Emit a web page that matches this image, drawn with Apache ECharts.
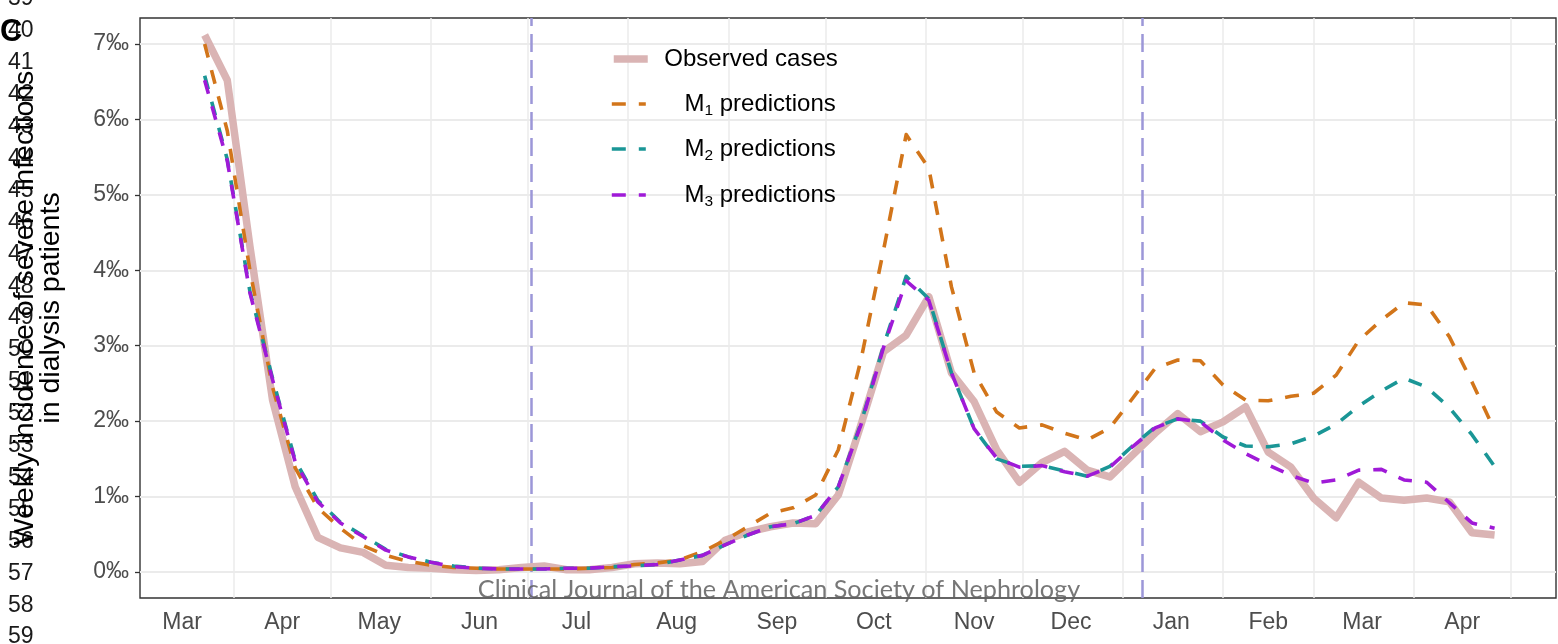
<!DOCTYPE html>
<html>
<head>
<meta charset="utf-8">
<script src="https://cdn.jsdelivr.net/npm/echarts@6/dist/echarts.min.js"></script>
<style>
html, body { margin: 0; padding: 0; background: #fff; }
#chart { width: 1558px; height: 644px; }
</style>
</head>
<body>
<div id="chart"></div>
<script>
// weekly series, first week starting 2020-03-23
const firstWeek = [2020, 2, 23];
const observed = [7.12, 6.52, 4.32, 2.28, 1.13, 0.46, 0.32, 0.26, 0.09, 0.06,
    0.05, 0.03, 0.02, 0.03, 0.06, 0.08, 0.03, 0.03, 0.06, 0.11,
    0.12, 0.11, 0.14, 0.42, 0.53, 0.60, 0.65, 0.64, 1.02, 1.95,
    2.92, 3.14, 3.65, 2.64, 2.26, 1.62, 1.19, 1.45, 1.60, 1.35,
    1.26, 1.55, 1.84, 2.10, 1.86, 1.99, 2.19, 1.59, 1.39, 0.98,
    0.72, 1.19, 0.98, 0.95, 0.98, 0.93, 0.52, 0.49];
const m1Pred = [7.00, 5.85, 4.00, 2.45, 1.38, 0.85, 0.58, 0.35, 0.22, 0.14,
    0.09, 0.06, 0.05, 0.04, 0.04, 0.04, 0.04, 0.05, 0.06, 0.10,
    0.12, 0.16, 0.27, 0.42, 0.60, 0.78, 0.85, 1.02, 1.62, 2.81,
    4.27, 5.80, 5.35, 3.78, 2.64, 2.12, 1.91, 1.95, 1.84, 1.75,
    1.91, 2.30, 2.70, 2.81, 2.80, 2.48, 2.28, 2.27, 2.33, 2.37,
    2.61, 3.07, 3.34, 3.57, 3.54, 3.12, 2.52, 1.88];
const m2Pred = [6.58, 5.47, 3.72, 2.57, 1.48, 0.95, 0.66, 0.48, 0.30, 0.20,
    0.13, 0.08, 0.05, 0.04, 0.04, 0.04, 0.05, 0.05, 0.07, 0.08,
    0.10, 0.16, 0.22, 0.36, 0.49, 0.60, 0.64, 0.75, 1.13, 1.97,
    3.00, 3.92, 3.62, 2.64, 1.90, 1.50, 1.40, 1.41, 1.34, 1.27,
    1.40, 1.67, 1.92, 2.03, 2.00, 1.79, 1.67, 1.66, 1.70, 1.80,
    1.96, 2.20, 2.40, 2.57, 2.45, 2.18, 1.82, 1.40];
const m3Pred = [6.52, 5.45, 3.70, 2.55, 1.46, 0.93, 0.65, 0.47, 0.29, 0.20,
    0.13, 0.07, 0.05, 0.04, 0.04, 0.04, 0.05, 0.05, 0.07, 0.08,
    0.10, 0.16, 0.22, 0.36, 0.49, 0.60, 0.64, 0.75, 1.13, 1.95,
    2.98, 3.86, 3.60, 2.64, 1.90, 1.51, 1.39, 1.41, 1.33, 1.27,
    1.39, 1.66, 1.91, 2.03, 1.99, 1.75, 1.57, 1.42, 1.28, 1.18,
    1.22, 1.35, 1.36, 1.22, 1.19, 0.92, 0.65, 0.58];

// axis ticks
const monthStarts = ['2020-04-01', '2020-05-01', '2020-06-01', '2020-07-01', '2020-08-01',
    '2020-09-01', '2020-10-01', '2020-11-01', '2020-12-01', '2021-01-01', '2021-02-01',
    '2021-03-01', '2021-04-01', '2021-05-01'];
const labelDates = ['2020-03-16', '2020-04-16', '2020-05-16', '2020-06-16', '2020-07-16',
    '2020-08-16', '2020-09-16', '2020-10-16', '2020-11-16', '2020-12-16', '2021-01-16',
    '2021-02-15', '2021-03-16', '2021-04-16'];
const monthLabels = ['Mar', 'Apr', 'May', 'Jun', 'Jul', 'Aug', 'Sep', 'Oct', 'Nov', 'Dec',
    'Jan', 'Feb', 'Mar', 'Apr'];
const yTicks = [0, 1, 2, 3, 4, 5, 6, 7];
const cutoffDates = ['2020-07-02', '2021-01-07'];
const seriesNames = ['Observed cases', 'M1 predictions', 'M2 predictions', 'M3 predictions'];

// dates are plotted as day numbers on a value axis
const DAY = 86400000;
const dayNum = (y, m, d) => Date.UTC(y, m, d) / DAY;
const ts = (s) => {
    const [y, m, d] = s.split('-').map(Number);
    return dayNum(y, m - 1, d);
};
const weekDays = observed.map((_, i) => dayNum(firstWeek[0], firstWeek[1], firstWeek[2] + 7 * i));
const pairs = (vals) => vals.map((v, i) => [weekDays[i], v]);
const labelDays = labelDates.map(ts);

const font = 'Liberation Sans, Arial, sans-serif';
const dash = [14, 13];

const chart = echarts.init(document.getElementById('chart'));

const graphics = [];
for (let n = 39; n <= 59; n++) {
    graphics.push({
        type: 'text', x: 8, y: 31 + (n - 40) * 31.9, z: 100,
        style: { text: String(n), fontSize: 23, fontFamily: font, fill: '#1a1a1a', align: 'left', verticalAlign: 'middle' }
    });
}
graphics.push({
    type: 'text', x: 0, y: 32, z: 101,
    style: { text: 'C', fontSize: 31, fontWeight: 'bold', fontFamily: font, fill: '#000', align: 'left', verticalAlign: 'middle' }
});
graphics.push({
    type: 'text', x: 25, y: 308, rotation: Math.PI / 2, z: 100,
    style: { text: 'Weekly incidence of severe infections', fontSize: 28.5, fontFamily: font, fill: '#000', align: 'center', verticalAlign: 'middle' }
});
graphics.push({
    type: 'text', x: 51, y: 308, rotation: Math.PI / 2, z: 100,
    style: { text: 'in dialysis patients', fontSize: 28.5, fontFamily: font, fill: '#000', align: 'center', verticalAlign: 'middle' }
});
graphics.push({
    type: 'text', x: 779, y: 590, z: 100,
    style: { text: 'Clinical Journal of the American Society of Nephrology', fontSize: 25.2, fontFamily: 'Lato, sans-serif', fill: 'rgba(95,95,95,0.85)', align: 'center', verticalAlign: 'middle' }
});

// one legend per row so each row sits exactly where it should
const legendTops = [47, 89, 134, 180];
const legends = seriesNames.map((name, i) => ({
    left: 610, top: legendTops[i], orient: 'vertical', padding: 0,
    itemWidth: 34, itemHeight: 14,
    selectedMode: false,
    itemStyle: { color: 'transparent', borderColor: 'transparent', borderWidth: 0 },
    lineStyle: { width: 'inherit', type: 'inherit' },
    formatter: (n) => {
        if (n === 'Observed cases') return '{t|Observed cases}';
        return '{t|M}{s|' + n.charAt(1) + '}{t| predictions}';
    },
    textStyle: {
        fontFamily: font, fontSize: 24, color: '#000', width: 185,
        rich: {
            t: { fontFamily: font, fontSize: 24, lineHeight: 32, color: '#000', align: 'right' },
            s: { fontFamily: font, fontSize: 15.5, lineHeight: 18, padding: [14, 0, 0, 0], color: '#000', align: 'right' }
        }
    },
    data: [name]
}));

const option = {
    animation: false,
    backgroundColor: '#fff',
    grid: {
        left: 140, right: 2, top: 18, bottom: 46,
        show: true, borderColor: '#333', borderWidth: 1.4, backgroundColor: 'transparent',
        containLabel: false, outerBoundsMode: 'none'
    },
    legend: legends,
    xAxis: {
        type: 'value',
        min: ts('2020-03-03'), max: ts('2021-05-15'),
        axisLine: { show: false },
        axisTick: { show: false, customValues: monthStarts.map(ts) },
        axisLabel: {
            customValues: labelDays,
            formatter: (v) => {
                const i = labelDays.indexOf(+v);
                return i >= 0 ? monthLabels[i] : '';
            },
            color: '#4d4d4d', fontSize: 23, fontFamily: font, margin: 13
        },
        splitLine: { show: true, lineStyle: { color: '#ebebeb', width: 1.5 } }
    },
    yAxis: {
        type: 'value',
        min: -0.345, max: 7.345,
        axisLine: { show: false },
        axisTick: { show: true, customValues: yTicks, length: 5, inside: false, lineStyle: { color: '#333', width: 1.3 } },
        axisLabel: {
            customValues: yTicks,
            formatter: (v) => v + '‰',
            color: '#4d4d4d', fontSize: 23, fontFamily: font, margin: 11
        },
        splitLine: { show: true, lineStyle: { color: '#ebebeb', width: 2 } }
    },
    series: [
        {
            name: seriesNames[0], type: 'line', data: pairs(observed),
            symbol: 'none', smooth: false,
            lineStyle: { color: '#dab4b4', width: 7.5, cap: 'butt', join: 'round' },
            itemStyle: { color: '#dab4b4' },
            markLine: {
                silent: true, symbol: 'none', z: 1,
                label: { show: false },
                lineStyle: { color: '#9c97d8', width: 2.5, type: [18, 8] },
                data: cutoffDates.map((d) => ({ xAxis: ts(d) }))
            }
        },
        {
            name: seriesNames[1], type: 'line', data: pairs(m1Pred),
            symbol: 'none',
            lineStyle: { color: '#d2751a', width: 3.6, type: dash, cap: 'butt', join: 'round' },
            itemStyle: { color: '#d2751a' }
        },
        {
            name: seriesNames[2], type: 'line', data: pairs(m2Pred),
            symbol: 'none',
            lineStyle: { color: '#1a9696', width: 3.6, type: dash, cap: 'butt', join: 'round' },
            itemStyle: { color: '#1a9696' }
        },
        {
            name: seriesNames[3], type: 'line', data: pairs(m3Pred),
            symbol: 'none',
            lineStyle: { color: '#9f1ad7', width: 3.6, type: dash, cap: 'butt', join: 'round' },
            itemStyle: { color: '#9f1ad7' }
        }
    ],
    graphic: graphics
};

chart.setOption(option);
</script>
</body>
</html>
